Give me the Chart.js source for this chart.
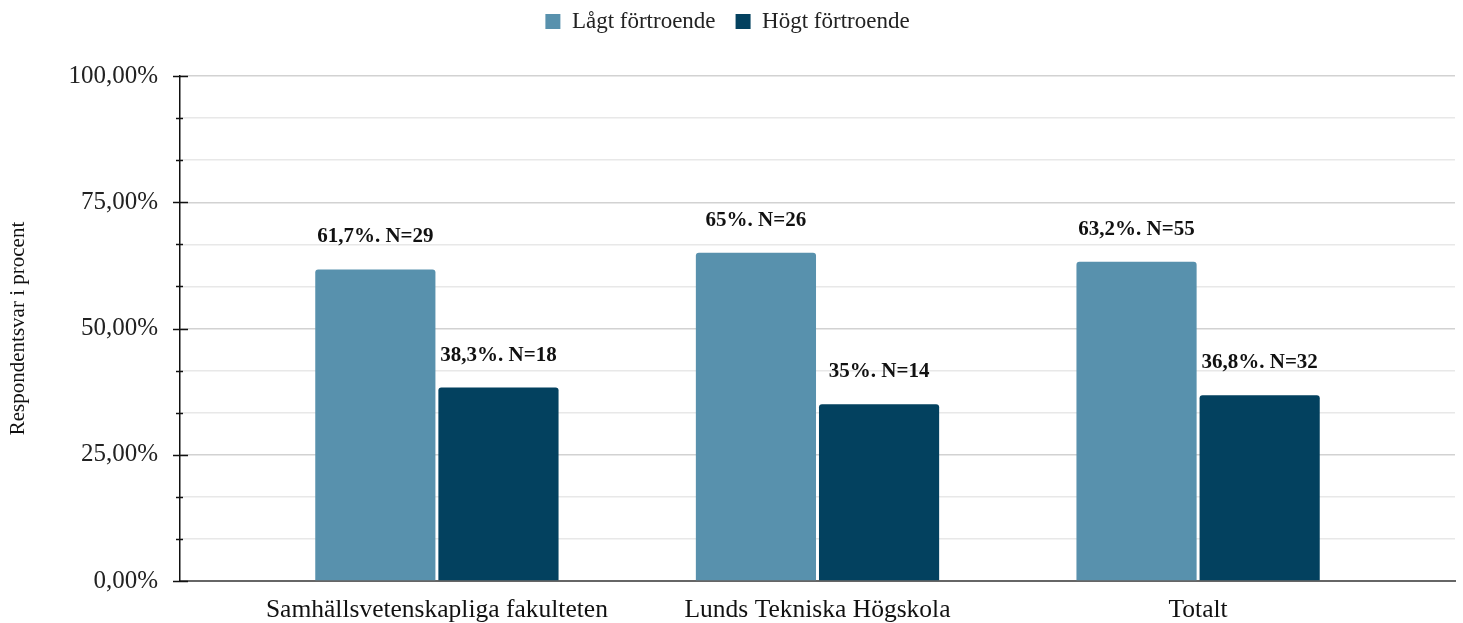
<!DOCTYPE html>
<html>
<head>
<meta charset="utf-8">
<script src="https://cdn.jsdelivr.net/npm/chart.js@4.4.1/dist/chart.umd.min.js"></script>
<style>
html,body{margin:0;padding:0;background:#fff;}
#wrap{width:1463px;height:623px;position:relative;}
</style>
</head>
<body>
<div id="wrap"><canvas id="c"></canvas></div>
<script>
const categories = ['Samhällsvetenskapliga fakulteten', 'Lunds Tekniska Högskola', 'Totalt'];
const seriesNames = ['Lågt förtroende', 'Högt förtroende'];
const lowValues = [61.7, 65, 63.2];
const highValues = [38.3, 35, 36.8];
const lowN = [29, 26, 55];
const highN = [18, 14, 32];
const yTickLabels = ['0,00%', '25,00%', '50,00%', '75,00%', '100,00%'];
const yMinorPerMajor = 3;

const SERIF = "'Liberation Serif', 'Times New Roman', serif";
const colors = ['#5891ad', '#03415f'];

function fmtLabel(v, n) {
  return String(v).replace('.', ',') + '%. N=' + n;
}
const valueLabels = [
  lowValues.map((v, i) => fmtLabel(v, lowN[i])),
  highValues.map((v, i) => fmtLabel(v, highN[i]))
];

const yTickValues = [];
for (let i = 0; i <= (yTickLabels.length - 1) * yMinorPerMajor; i++) {
  yTickValues.push(i * 100 / ((yTickLabels.length - 1) * yMinorPerMajor));
}

const labelPlugin = {
  id: 'valueLabels',
  afterDatasetsDraw(chart) {
    const ctx = chart.ctx;
    ctx.save();
    ctx.font = 'bold 21px ' + SERIF;
    ctx.fillStyle = '#111';
    ctx.textAlign = 'center';
    ctx.textBaseline = 'alphabetic';
    chart.data.datasets.forEach((ds, di) => {
      const meta = chart.getDatasetMeta(di);
      meta.data.forEach((bar, i) => {
        ctx.fillText(valueLabels[di][i], bar.x, bar.y - 27);
      });
    });
    ctx.restore();
  }
};

const tickPlugin = {
  id: 'yTickMarks',
  afterDraw(chart) {
    const ctx = chart.ctx;
    const ys = chart.scales.y;
    const x0 = chart.chartArea.left;
    ctx.save();
    ctx.strokeStyle = '#111';
    ctx.lineWidth = 1.5;
    yTickValues.forEach((v, i) => {
      const y = Math.round(ys.getPixelForValue(v)) + 0.5;
      const major = i % yMinorPerMajor === 0;
      ctx.beginPath();
      if (major) { ctx.moveTo(x0 - 7, y); ctx.lineTo(x0 + 8, y); }
      else { ctx.moveTo(x0 - 4, y); ctx.lineTo(x0 + 3, y); }
      ctx.stroke();
    });
    ctx.restore();
  }
};

const legendSpacePlugin = {
  id: 'legendSpace',
  afterInit(chart) {
    const lg = chart.legend;
    if (!lg) return;
    const orig = lg.fit;
    lg.fit = function () {
      orig.call(this);
      this.height += 33;
    };
  }
};

const xPadUnits = 0.675;

new Chart(document.getElementById('c'), {
  type: 'bar',
  data: {
    datasets: [
      {
        label: seriesNames[0],
        data: lowValues.map((v, i) => ({x: i, y: v})),
        backgroundColor: colors[0],
        borderRadius: {topLeft: 3, topRight: 3, bottomLeft: 0, bottomRight: 0},
        borderSkipped: false,
        categoryPercentage: 0.647,
        barPercentage: 0.976
      },
      {
        label: seriesNames[1],
        data: highValues.map((v, i) => ({x: i, y: v})),
        backgroundColor: colors[1],
        borderRadius: {topLeft: 3, topRight: 3, bottomLeft: 0, bottomRight: 0},
        borderSkipped: false,
        categoryPercentage: 0.647,
        barPercentage: 0.976
      }
    ]
  },
  options: {
    responsive: true,
    maintainAspectRatio: false,
    animation: false,
    layout: {padding: {top: -10, right: 8, left: 0, bottom: 0}},
    plugins: {
      legend: {
        position: 'top',
        labels: {
          font: {family: SERIF, size: 23},
          color: '#222',
          boxWidth: 15,
          boxHeight: 15,
          padding: 20
        }
      },
      tooltip: {enabled: false}
    },
    scales: {
      x: {
        type: 'linear',
        offset: false,
        min: -xPadUnits,
        max: categories.length - 1 + xPadUnits,
        afterBuildTicks(scale) {
          scale.ticks = categories.map((c, i) => ({value: i}));
        },
        afterFit(scale) { scale.height = 42; },
        grid: {display: false, drawTicks: false, offset: false},
        border: {display: true, color: '#666', width: 2},
        ticks: {
          font: {family: SERIF, size: 25.5},
          color: '#111',
          padding: 14,
          maxRotation: 0,
          autoSkip: false,
          callback(value) { return categories[value] !== undefined ? categories[value] : ''; }
        }
      },
      y: {
        min: 0,
        max: 100,
        afterBuildTicks(scale) {
          scale.ticks = yTickValues.map(v => ({value: v}));
        },
        afterFit(scale) { scale.width = 180; },
        grid: {
          drawTicks: false,
          color(ctx) { return (ctx.index % yMinorPerMajor === 0) ? '#d2d2d2' : '#e8e8e8'; },
          lineWidth: 1.5
        },
        border: {display: true, color: '#111', width: 1.5},
        title: {
          display: true,
          text: 'Respondentsvar i procent',
          font: {family: SERIF, size: 21},
          color: '#111',
          padding: {top: 6, bottom: 0}
        },
        ticks: {
          font: {family: SERIF, size: 25},
          color: '#222',
          padding: 22,
          autoSkip: false,
          callback(value, index) {
            return index % yMinorPerMajor === 0 ? yTickLabels[index / yMinorPerMajor] : '';
          }
        }
      }
    }
  },
  plugins: [labelPlugin, tickPlugin, legendSpacePlugin]
});
</script>
</body>
</html>
